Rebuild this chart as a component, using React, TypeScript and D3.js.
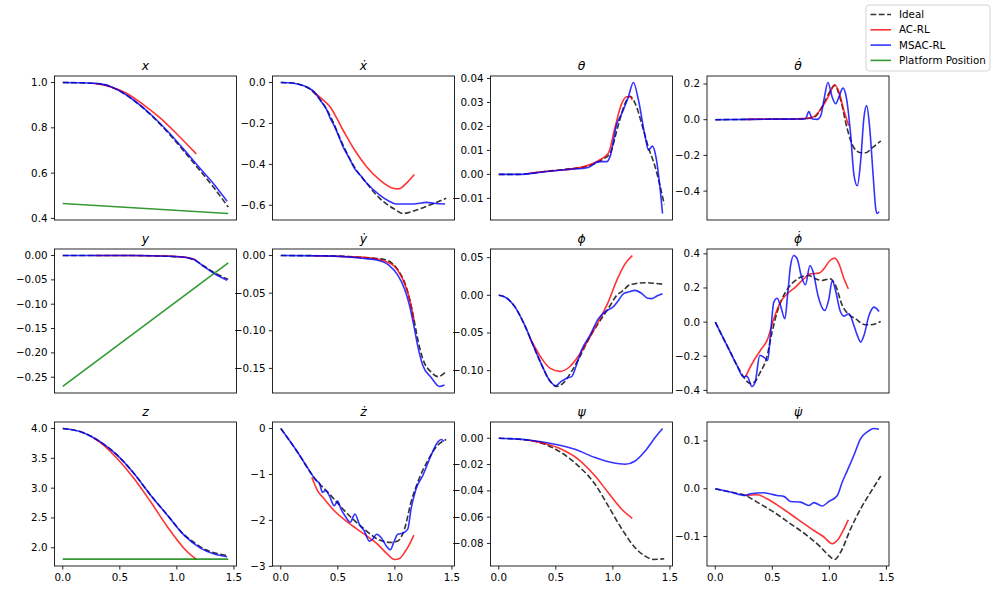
import React from "react";
import * as d3 from "d3";

type Pt = [number, number];

// ---- x ----
const xIdeal: Pt[] = [[0, 1], [0.15, 0.999], [0.33, 0.994], [0.48, 0.968], [0.62, 0.922], [0.77, 0.858], [0.917, 0.782], [1.06, 0.698], [1.21, 0.607], [1.33, 0.532], [1.45, 0.45]];
const xAc: Pt[] = [[0.27, 0.997], [0.4, 0.984], [0.55, 0.955], [0.7, 0.905], [0.85, 0.845], [1.0, 0.773], [1.17, 0.685]];
const xMsac: Pt[] = [[0, 1], [0.15, 0.999], [0.33, 0.994], [0.48, 0.968], [0.62, 0.923], [0.77, 0.86], [0.917, 0.786], [1.06, 0.705], [1.21, 0.617], [1.33, 0.548], [1.44, 0.476]];
const xPlatform: Pt[] = [[0, 0.466], [1.45, 0.422]];
const xTicks = ["0.4", "0.6", "0.8", "1.0"];

// ---- x dot ----
const dxIdeal: Pt[] = [[0, 0], [0.1, -0.002], [0.18, -0.012], [0.25, -0.03], [0.354, -0.09], [0.43, -0.16], [0.545, -0.305], [0.647, -0.415], [0.75, -0.49], [0.867, -0.566], [1.0, -0.62], [1.07, -0.64], [1.19, -0.623], [1.306, -0.599], [1.45, -0.566]];
const dxAc: Pt[] = [[0.27, -0.035], [0.35, -0.075], [0.43, -0.117], [0.545, -0.232], [0.647, -0.33], [0.75, -0.41], [0.867, -0.476], [0.984, -0.517], [1.03, -0.52], [1.1, -0.493], [1.17, -0.45]];
const dxMsac: Pt[] = [[0, 0], [0.1, -0.002], [0.18, -0.012], [0.25, -0.028], [0.3, -0.05], [0.354, -0.093], [0.4, -0.13], [0.43, -0.17], [0.48, -0.225], [0.545, -0.313], [0.6, -0.37], [0.647, -0.42], [0.7, -0.455], [0.75, -0.49], [0.867, -0.55], [0.95, -0.58], [1.01, -0.594], [1.16, -0.594], [1.277, -0.586], [1.34, -0.59], [1.44, -0.594]];
const dxTicks = ["−0.6", "−0.4", "−0.2", "0.0"];

// ---- theta ----
const thIdeal: Pt[] = [[0, 0], [0.17, 0], [0.4, 0.0012], [0.6, 0.0022], [0.785, 0.0035], [0.9, 0.006], [0.975, 0.0088], [1.05, 0.021], [1.107, 0.0296], [1.151, 0.0326], [1.195, 0.0296], [1.268, 0.0185], [1.31, 0.0115], [1.37, 0.0032], [1.45, -0.0125]];
const thAc: Pt[] = [[0.27, 0.0006], [0.5, 0.0016], [0.7, 0.0027], [0.873, 0.0057], [0.96, 0.0088], [1.02, 0.0199], [1.078, 0.0296], [1.12, 0.0324], [1.151, 0.0324], [1.17, 0.031]];
const thMsac: Pt[] = [[0, 0], [0.17, 0], [0.4, 0.0011], [0.6, 0.002], [0.785, 0.0029], [0.873, 0.0053], [0.946, 0.0053], [0.975, 0.0074], [1.034, 0.021], [1.078, 0.0254], [1.136, 0.0324], [1.18, 0.0383], [1.224, 0.031], [1.283, 0.0157], [1.312, 0.0101], [1.347, 0.0118], [1.377, 0.0074], [1.415, -0.0065], [1.435, -0.0163]];
const thTicks = ["−0.01", "0.00", "0.01", "0.02", "0.03", "0.04"];

// ---- theta dot ----
const dthIdeal: Pt[] = [[0, 0], [0.5, 0.003], [0.75, 0.004], [0.864, 0.013], [0.95, 0.089], [1.01, 0.164], [1.046, 0.192], [1.1, 0.108], [1.157, -0.053], [1.215, -0.157], [1.274, -0.185], [1.318, -0.185], [1.377, -0.157], [1.45, -0.119]];
const dthAc: Pt[] = [[0.27, 0.002], [0.6, 0.004], [0.8, 0.008], [0.864, 0.017], [0.937, 0.07], [0.996, 0.136], [1.046, 0.196], [1.084, 0.155], [1.128, 0.05], [1.17, -0.034]];
const dthMsac: Pt[] = [[0, 0], [0.5, 0.003], [0.79, 0.004], [0.82, 0.045], [0.85, 0.004], [0.893, 0.002], [0.923, 0.02], [0.955, 0.12], [0.987, 0.208], [1.025, 0.126], [1.055, 0.089], [1.085, 0.13], [1.119, 0.177], [1.148, 0.126], [1.186, -0.081], [1.215, -0.307], [1.245, -0.37], [1.274, -0.232], [1.303, 0.013], [1.327, 0.079], [1.353, -0.043], [1.383, -0.307], [1.406, -0.496], [1.42, -0.525], [1.435, -0.515]];
const dthTicks = ["−0.4", "−0.2", "0.0", "0.2"];

// ---- y ----
const yIdeal: Pt[] = [[0, 0], [0.6, 0], [0.917, -0.0015], [1.063, -0.0036], [1.15, -0.009], [1.24, -0.022], [1.327, -0.035], [1.45, -0.049]];
const yAc: Pt[] = [[0.27, 0], [0.6, 0], [0.917, -0.001], [1.063, -0.003], [1.17, -0.009]];
const yMsac: Pt[] = [[0, 0], [0.6, 0], [0.917, -0.0013], [1.063, -0.0034], [1.15, -0.008], [1.24, -0.023], [1.327, -0.037], [1.44, -0.051]];
const yPlatform: Pt[] = [[0, -0.269], [1.45, -0.0151]];
const yTicks = ["−0.25", "−0.20", "−0.15", "−0.10", "−0.05", "0.00"];

// ---- y dot ----
const dyIdeal: Pt[] = [[0, 0], [0.38, -0.0003], [0.73, -0.0027], [0.91, -0.0053], [0.98, -0.011], [1.04, -0.022], [1.1, -0.042], [1.157, -0.077], [1.2, -0.111], [1.245, -0.1375], [1.318, -0.155], [1.377, -0.161], [1.45, -0.154]];
const dyAc: Pt[] = [[0.27, -0.0002], [0.73, -0.0022], [0.967, -0.011], [1.025, -0.0196], [1.084, -0.037], [1.128, -0.057], [1.17, -0.088]];
const dyMsac: Pt[] = [[0, 0], [0.38, -0.0005], [0.73, -0.004], [0.85, -0.0062], [0.95, -0.013], [1.025, -0.026], [1.084, -0.044], [1.128, -0.066], [1.166, -0.093], [1.2, -0.12], [1.245, -0.146], [1.318, -0.162], [1.39, -0.174], [1.435, -0.172]];
const dyTicks = ["−0.15", "−0.10", "−0.05", "0.00"];

// ---- phi ----
const phIdeal: Pt[] = [[0, 0], [0.053, -0.0022], [0.14, -0.015], [0.228, -0.04], [0.3, -0.066], [0.375, -0.092], [0.44, -0.112], [0.507, -0.121], [0.565, -0.1165], [0.638, -0.101], [0.712, -0.081], [0.785, -0.059], [0.873, -0.037], [0.96, -0.0176], [1.034, 0], [1.093, 0.0066], [1.136, 0.013], [1.195, 0.0154], [1.283, 0.0167], [1.371, 0.0158], [1.45, 0.0145]];
const phAc: Pt[] = [[0.27, -0.056], [0.3, -0.064], [0.375, -0.0836], [0.448, -0.0967], [0.536, -0.101], [0.624, -0.0945], [0.697, -0.081], [0.785, -0.059], [0.873, -0.035], [0.96, -0.0088], [1.034, 0.0198], [1.107, 0.0418], [1.17, 0.0528]];
const phMsac: Pt[] = [[0, 0], [0.053, -0.0022], [0.14, -0.015], [0.228, -0.04], [0.3, -0.066], [0.375, -0.092], [0.433, -0.11], [0.498, -0.12], [0.55, -0.114], [0.595, -0.11], [0.638, -0.108], [0.682, -0.092], [0.726, -0.0726], [0.8, -0.053], [0.873, -0.031], [0.93, -0.022], [1.005, -0.015], [1.05, -0.0066], [1.093, 0.0022], [1.136, 0.0044], [1.195, 0.0066], [1.254, 0.0022], [1.3, -0.0035], [1.34, -0.0044], [1.385, -0.001], [1.435, 0.0022]];
const phTicks = ["−0.10", "−0.05", "0.00", "0.05"];

// ---- phi dot ----
const dphIdeal: Pt[] = [[0, 0], [0.073, -0.098], [0.132, -0.176], [0.19, -0.254], [0.249, -0.322], [0.278, -0.347], [0.313, -0.361], [0.35, -0.347], [0.395, -0.293], [0.448, -0.215], [0.498, -0.0585], [0.542, 0.0585], [0.586, 0.137], [0.644, 0.205], [0.703, 0.244], [0.762, 0.267], [0.82, 0.273], [0.879, 0.254], [0.937, 0.244], [1.005, 0.254], [1.054, 0.215], [1.113, 0.0975], [1.172, 0.043], [1.23, 0.0195], [1.303, -0.0137], [1.362, -0.0156], [1.45, 0.004]];
const dphAc: Pt[] = [[0.264, -0.322], [0.322, -0.244], [0.395, -0.166], [0.454, -0.107], [0.513, 0.0195], [0.571, 0.117], [0.63, 0.166], [0.703, 0.205], [0.776, 0.254], [0.835, 0.283], [0.908, 0.287], [0.952, 0.312], [1.005, 0.361], [1.046, 0.375], [1.084, 0.341], [1.128, 0.254], [1.166, 0.195]];
const dphMsac: Pt[] = [[0, 0], [0.073, -0.098], [0.132, -0.176], [0.19, -0.254], [0.249, -0.322], [0.27, -0.316], [0.284, -0.322], [0.322, -0.377], [0.35, -0.351], [0.39, -0.195], [0.425, -0.205], [0.46, -0.224], [0.483, -0.078], [0.513, 0.117], [0.542, 0.14], [0.571, 0.098], [0.61, 0.0195], [0.636, 0.176], [0.66, 0.332], [0.688, 0.39], [0.718, 0.371], [0.753, 0.273], [0.79, 0.219], [0.83, 0.332], [0.858, 0.293], [0.9, 0.156], [0.96, 0.068], [0.996, 0.137], [1.025, 0.244], [1.054, 0.185], [1.093, 0.068], [1.128, 0.035], [1.172, 0.049], [1.215, -0.0195], [1.245, -0.078], [1.274, -0.117], [1.303, -0.078], [1.347, 0.039], [1.391, 0.088], [1.435, 0.0625]];
const dphTicks = ["−0.4", "−0.2", "0.0", "0.2", "0.4"];

// ---- z ----
const zIdeal: Pt[] = [[0, 4.0], [0.185, 3.927], [0.33, 3.776], [0.477, 3.553], [0.624, 3.246], [0.77, 2.883], [0.917, 2.547], [1.063, 2.22], [1.15, 2.09], [1.21, 2.01], [1.327, 1.915], [1.45, 1.87]];
const zAc: Pt[] = [[0.27, 3.84], [0.33, 3.765], [0.477, 3.497], [0.624, 3.162], [0.77, 2.771], [0.917, 2.352], [1.063, 1.989], [1.17, 1.804]];
const zMsac: Pt[] = [[0, 4.0], [0.185, 3.927], [0.33, 3.776], [0.477, 3.553], [0.624, 3.246], [0.77, 2.883], [0.917, 2.547], [1.063, 2.212], [1.21, 1.989], [1.327, 1.894], [1.44, 1.85]];
const zPlatform: Pt[] = [[0, 1.81], [1.45, 1.81]];
const zTicks = ["2.0", "2.5", "3.0", "3.5", "4.0"];

// ---- z dot ----
const dzIdeal: Pt[] = [[0, 0], [0.146, -0.51], [0.278, -1.02], [0.44, -1.46], [0.586, -1.86], [0.732, -2.19], [0.85, -2.41], [0.967, -2.48], [1.025, -2.45], [1.084, -2.19], [1.142, -1.6], [1.2, -1.17], [1.29, -0.69], [1.362, -0.4], [1.45, -0.24]];
const dzAc: Pt[] = [[0.272, -1.06], [0.322, -1.35], [0.38, -1.53], [0.469, -1.79], [0.586, -2.04], [0.732, -2.3], [0.85, -2.52], [0.937, -2.74], [0.996, -2.85], [1.04, -2.83], [1.084, -2.7], [1.128, -2.52], [1.166, -2.32]];
const dzMsac: Pt[] = [[0, 0], [0.146, -0.51], [0.278, -1.02], [0.308, -1.13], [0.337, -1.18], [0.366, -1.39], [0.395, -1.35], [0.425, -1.46], [0.469, -1.68], [0.498, -1.58], [0.527, -1.75], [0.571, -1.93], [0.609, -2.04], [0.65, -1.86], [0.688, -2.08], [0.732, -2.23], [0.776, -2.45], [0.805, -2.41], [0.84, -2.3], [0.879, -2.37], [0.923, -2.55], [0.96, -2.64], [0.99, -2.48], [1.025, -2.3], [1.07, -2.28], [1.113, -2.19], [1.142, -1.75], [1.186, -1.31], [1.245, -1.02], [1.318, -0.58], [1.377, -0.29], [1.406, -0.24], [1.43, -0.28]];
const dzTicks = ["−3", "−2", "−1", "0"];

// ---- psi ----
const psIdeal: Pt[] = [[0, 0], [0.258, -0.0014], [0.404, -0.0046], [0.55, -0.011], [0.697, -0.021], [0.844, -0.035], [0.96, -0.0516], [1.078, -0.069], [1.195, -0.0833], [1.283, -0.0897], [1.356, -0.0922], [1.45, -0.0917]];
const psAc: Pt[] = [[0.27, -0.0016], [0.404, -0.004], [0.55, -0.0084], [0.697, -0.016], [0.844, -0.0287], [0.96, -0.0414], [1.078, -0.054], [1.17, -0.061]];
const psMsac: Pt[] = [[0, 0], [0.258, -0.0013], [0.492, -0.0046], [0.668, -0.0084], [0.844, -0.0147], [0.99, -0.0185], [1.107, -0.0198], [1.195, -0.0173], [1.283, -0.0097], [1.37, 0.0005], [1.435, 0.0074]];
const psTicks = ["−0.08", "−0.06", "−0.04", "−0.02", "0.00"];

// ---- psi dot ----
const dpsIdeal: Pt[] = [[0, 0], [0.132, -0.007], [0.264, -0.014], [0.366, -0.028], [0.513, -0.049], [0.66, -0.0734], [0.805, -0.098], [0.923, -0.122], [0.996, -0.14], [1.046, -0.148], [1.098, -0.133], [1.186, -0.084], [1.274, -0.042], [1.362, -0.007], [1.45, 0.0266]];
const dpsAc: Pt[] = [[0.264, -0.014], [0.366, -0.0126], [0.454, -0.021], [0.571, -0.0385], [0.718, -0.063], [0.864, -0.0874], [0.952, -0.101], [1.025, -0.115], [1.07, -0.108], [1.113, -0.091], [1.166, -0.065]];
const dpsMsac: Pt[] = [[0, 0], [0.132, -0.007], [0.264, -0.014], [0.308, -0.0105], [0.425, -0.0084], [0.483, -0.011], [0.542, -0.014], [0.6, -0.016], [0.66, -0.0266], [0.747, -0.028], [0.82, -0.035], [0.864, -0.029], [0.937, -0.036], [0.996, -0.0266], [1.07, -0.014], [1.113, 0.014], [1.157, 0.038], [1.215, 0.07], [1.274, 0.105], [1.333, 0.119], [1.39, 0.126], [1.435, 0.1245]];
const dpsTicks = ["−0.1", "0.0", "0.1"];

const xAxisTicks = ["0.0", "0.5", "1.0", "1.5"];

const legendLabels = ["Ideal", "AC-RL", "MSAC-RL", "Platform Position"];

type Panel = { title: string; ideal: Pt[]; ac: Pt[]; msac: Pt[]; platform?: Pt[]; ticks: string[] };

const panels: Panel[] = [
  { title: "x", ideal: xIdeal, ac: xAc, msac: xMsac, platform: xPlatform, ticks: xTicks },
  { title: "\u1E8B", ideal: dxIdeal, ac: dxAc, msac: dxMsac, ticks: dxTicks },
  { title: "\u03B8", ideal: thIdeal, ac: thAc, msac: thMsac, ticks: thTicks },
  { title: "\u03B8\u0307", ideal: dthIdeal, ac: dthAc, msac: dthMsac, ticks: dthTicks },
  { title: "y", ideal: yIdeal, ac: yAc, msac: yMsac, platform: yPlatform, ticks: yTicks },
  { title: "\u1E8F", ideal: dyIdeal, ac: dyAc, msac: dyMsac, ticks: dyTicks },
  { title: "\u03D5", ideal: phIdeal, ac: phAc, msac: phMsac, ticks: phTicks },
  { title: "\u03D5\u0307", ideal: dphIdeal, ac: dphAc, msac: dphMsac, ticks: dphTicks },
  { title: "z", ideal: zIdeal, ac: zAc, msac: zMsac, platform: zPlatform, ticks: zTicks },
  { title: "\u017C", ideal: dzIdeal, ac: dzAc, msac: dzMsac, ticks: dzTicks },
  { title: "\u03C8", ideal: psIdeal, ac: psAc, msac: psMsac, ticks: psTicks },
  { title: "\u03C8\u0307", ideal: dpsIdeal, ac: dpsAc, msac: dpsMsac, ticks: dpsTicks },
];

const W = 995;
const H = 605;
const colLeft = [54.5, 272.5, 490.5, 707];
const rowTop = [76, 249, 422];
const PW = 182;
const PH = 144;
const FONT = "DejaVu Sans, sans-serif";
const FS = 10.3;
const LW = 1.6;

const num = (s: string) => Number(s.replace("\u2212", "-"));

// matplotlib-style 5% margins
const padded = (vals: number[]): [number, number] => {
  const [lo, hi] = d3.extent(vals) as [number, number];
  const m = (hi - lo) * 0.05;
  return [lo - m, hi + m];
};

const allT = panels.flatMap((p) =>
  [p.ideal, p.ac, p.msac, p.platform || []].flatMap((s) => s.map((d) => d[0]))
);
const tDomain = padded(allT);

const styles = [
  { key: "ideal", color: "#000000", dash: "5.8,2.5" },
  { key: "ac", color: "#ff0000", dash: undefined },
  { key: "msac", color: "#0000ff", dash: undefined },
  { key: "platform", color: "#008000", dash: undefined },
];

const PanelView = ({ p, i }: { p: Panel; i: number }) => {
  const row = Math.floor(i / 4);
  const col = i % 4;
  const left = colLeft[col];
  const top = rowTop[row];
  const xs = d3.scaleLinear().domain(tDomain).range([left, left + PW]);
  const vals = [p.ideal, p.ac, p.msac, p.platform || []].flatMap((s) => s.map((d) => d[1]));
  const ys = d3.scaleLinear().domain(padded(vals)).range([top + PH, top]);
  const line = d3
    .line<Pt>()
    .x((d) => xs(d[0]))
    .y((d) => ys(d[1]))
    .curve(d3.curveMonotoneX);

  return (
    <g>
      {styles.map((s) => {
        const data = (p as any)[s.key] as Pt[] | undefined;
        if (!data) return null;
        return (
          <path
            key={s.key}
            d={line(data) || ""}
            fill="none"
            stroke={s.color}
            strokeOpacity={0.8}
            strokeWidth={LW}
            strokeDasharray={s.dash}
          />
        );
      })}
      <rect x={left} y={top} width={PW} height={PH} fill="none" stroke="#000" strokeWidth={0.85} />
      {p.ticks.map((t) => {
        const y = ys(num(t));
        return (
          <g key={t}>
            <line x1={left - 3.6} x2={left} y1={y} y2={y} stroke="#000" strokeWidth={0.85} />
            <text x={left - 7} y={y} dy="0.34em" textAnchor="end" fontSize={FS} fontFamily={FONT} fill="#000">
              {t}
            </text>
          </g>
        );
      })}
      {row === 2 &&
        xAxisTicks.map((t) => {
          const x = xs(num(t));
          return (
            <g key={t}>
              <line x1={x} x2={x} y1={top + PH} y2={top + PH + 3.6} stroke="#000" strokeWidth={0.85} />
              <text x={x} y={top + PH + 7} dy="0.76em" textAnchor="middle" fontSize={FS} fontFamily={FONT} fill="#000">
                {t}
              </text>
            </g>
          );
        })}
      <text
        x={left + PW / 2}
        y={top - 6.3}
        textAnchor="middle"
        fontSize={12.4}
        fontStyle="italic"
        fontFamily={FONT}
        fill="#000"
      >
        {p.title}
      </text>
    </g>
  );
};

const Legend = () => {
  const x0 = 866;
  const y0 = 5;
  return (
    <g>
      <rect x={x0} y={y0} width={124} height={66} rx={3} fill="#fff" fillOpacity={0.8} stroke="#ccc" strokeWidth={0.85} />
      {legendLabels.map((label, i) => {
        const y = y0 + 9.5 + i * 15.3;
        const s = styles[i];
        return (
          <g key={label}>
            <line x1={x0 + 4.5} x2={x0 + 25} y1={y} y2={y} stroke={s.color} strokeOpacity={0.8} strokeWidth={LW} strokeDasharray={s.dash} />
            <text x={x0 + 33} y={y} dy="0.34em" fontSize={FS} fontFamily={FONT} fill="#000">
              {label}
            </text>
          </g>
        );
      })}
    </g>
  );
};

export default function App() {
  return (
    <div style={{ position: "absolute", left: 0, top: 0 }}>
      <svg width={W} height={H} style={{ display: "block", background: "#fff" }}>
        {panels.map((p, i) => (
          <PanelView key={i} p={p} i={i} />
        ))}
        <Legend />
      </svg>
    </div>
  );
}
